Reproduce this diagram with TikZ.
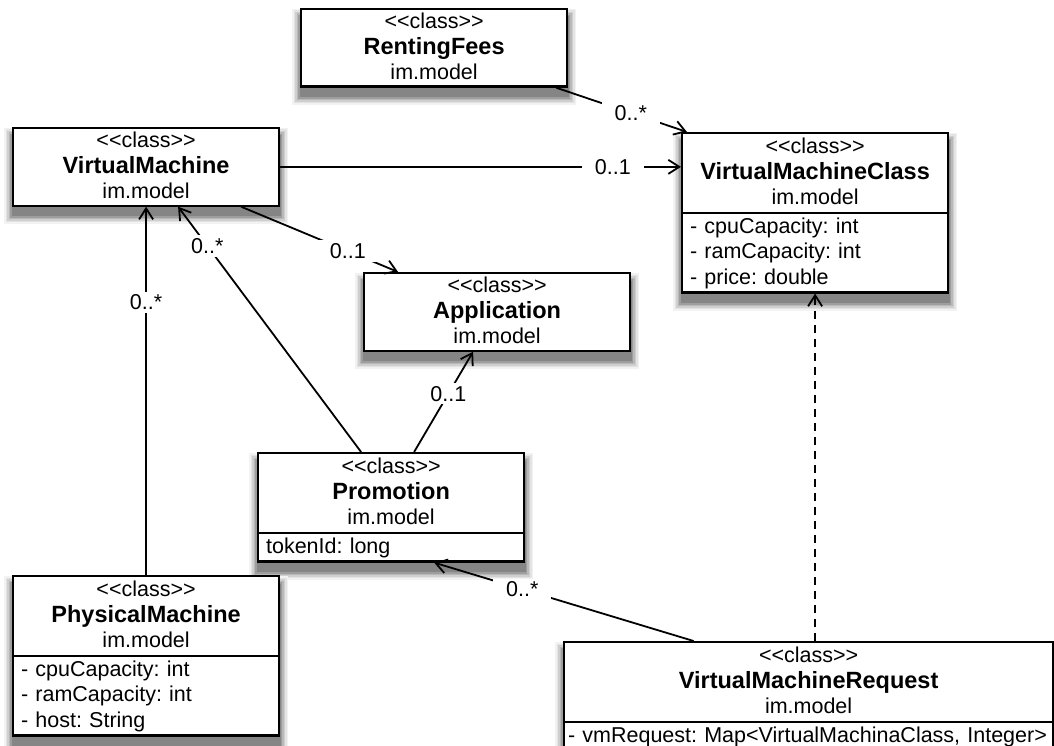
\documentclass[tikz,border=0pt]{standalone}
\usepackage{fontspec}
\setmainfont{Liberation Sans}[Ligatures=TeXOff]
\usepackage{tikz}
\usetikzlibrary{arrows.meta, shapes.multipart, backgrounds}
\newcommand{\umlstrut}{\rule[-6.5pt]{0pt}{25.5pt}}
\newcommand{\umlhead}[1]{\centering\umlstrut<<class>>\\
  \umlstrut{\fontsize{23.5}{25.5}\selectfont\bfseries #1}\\
  \umlstrut im.model\par}
\tikzset{
  classbox/.style={rectangle, draw=black, fill=white, line width=2.2pt,
    text width=250pt, align=left, inner xsep=8pt, inner ysep=0.5pt,
    font=\fontsize{21.5}{25.5}\selectfont\frenchspacing, anchor=north west},
  classsplit/.style={classbox, rectangle split, rectangle split parts=2},
  mult/.style={fill=white, inner xsep=13pt, inner ysep=3pt,
    font=\fontsize{21.5}{25}\selectfont},
  assoc/.style={-{Straight Barb[length=11pt, width=14pt]}, line width=1.8pt},
  depend/.style={assoc, dash pattern=on 8pt off 6pt}
}
\begin{document}
\begin{tikzpicture}[x=1pt, y=-1pt]
  \useasboundingbox (0,0) rectangle (1054,746);

  % classes
  \node[classbox] (fees) at (300,8) {\umlhead{RentingFees}};
  \node[classbox] (vm) at (12,127) {\umlhead{VirtualMachine}};
  \node[classbox] (app) at (363,272) {\umlhead{Application}};
  \node[classsplit] (vmc) at (681,132) {\umlhead{VirtualMachineClass}
    \nodepart{two}\raggedright\umlstrut- cpuCapacity: int\\
    \umlstrut- ramCapacity: int\\
    \umlstrut- price: double\par};
  \node[classsplit] (promo) at (257,452) {\umlhead{Promotion}
    \nodepart{two}\raggedright\umlstrut tokenId: long\par};
  \node[classsplit] (pm) at (12,575) {\umlhead{PhysicalMachine}
    \nodepart{two}\raggedright\umlstrut- cpuCapacity: int\\
    \umlstrut- ramCapacity: int\\
    \umlstrut- host: String\par};
  \node[classsplit, text width=481pt, inner xsep=4pt] (req) at (563,641)
    {\umlhead{VirtualMachineRequest}
    \nodepart{two}\raggedright\umlstrut- vmRequest: Map<VirtualMachinaClass, Integer>\par};

  % soft shadows behind the boxes
  \begin{pgfonlayer}{background}
    \foreach \n in {fees,vm,app,vmc,promo,pm,req}
      \foreach \e/\c/\t/\b in {8/5/1/17, 6.5/11/2.5/15.5, 5/19/4/14, 3.5/28/5.5/12.5, 2/38/7/11, 0.5/48/8.5/9.5}
        \fill[black!\c] ([xshift=-\e pt, yshift=-\t pt]\n.north west)
          rectangle ([xshift=\e pt, yshift=-\b pt]\n.south east);
  \end{pgfonlayer}

  % associations
  \draw[assoc] ([xshift=-12pt]fees.south east) -- node[mult, pos=0.57] {0..*} ([xshift=6pt]vmc.north west);
  \draw[assoc] (vm.east) -- node[mult, pos=0.83] {0..1} (vm.east -| vmc.west);
  \draw[assoc] ([xshift=95pt]vm.south) -- node[mult, pos=0.68] {0..1} ([xshift=-99pt]app.north);
  \draw[assoc] ([xshift=-30pt]promo.north) -- node[mult, pos=0.84] {0..*} ([xshift=32pt]vm.south);
  \draw[assoc] ([xshift=23pt]promo.north) -- node[mult, pos=0.58] {0..1} ([xshift=-24pt]app.south);
  \draw[assoc] (pm.north) -- node[mult, pos=0.74] {0..*} (vm.south);
  \draw[assoc] ([xshift=-115pt]req.north) -- node[mult, pos=0.66] {0..*} ([xshift=43pt]promo.south);
  \draw[depend] (req.north -| vmc.south) -- (vmc.south);
\end{tikzpicture}
\end{document}
